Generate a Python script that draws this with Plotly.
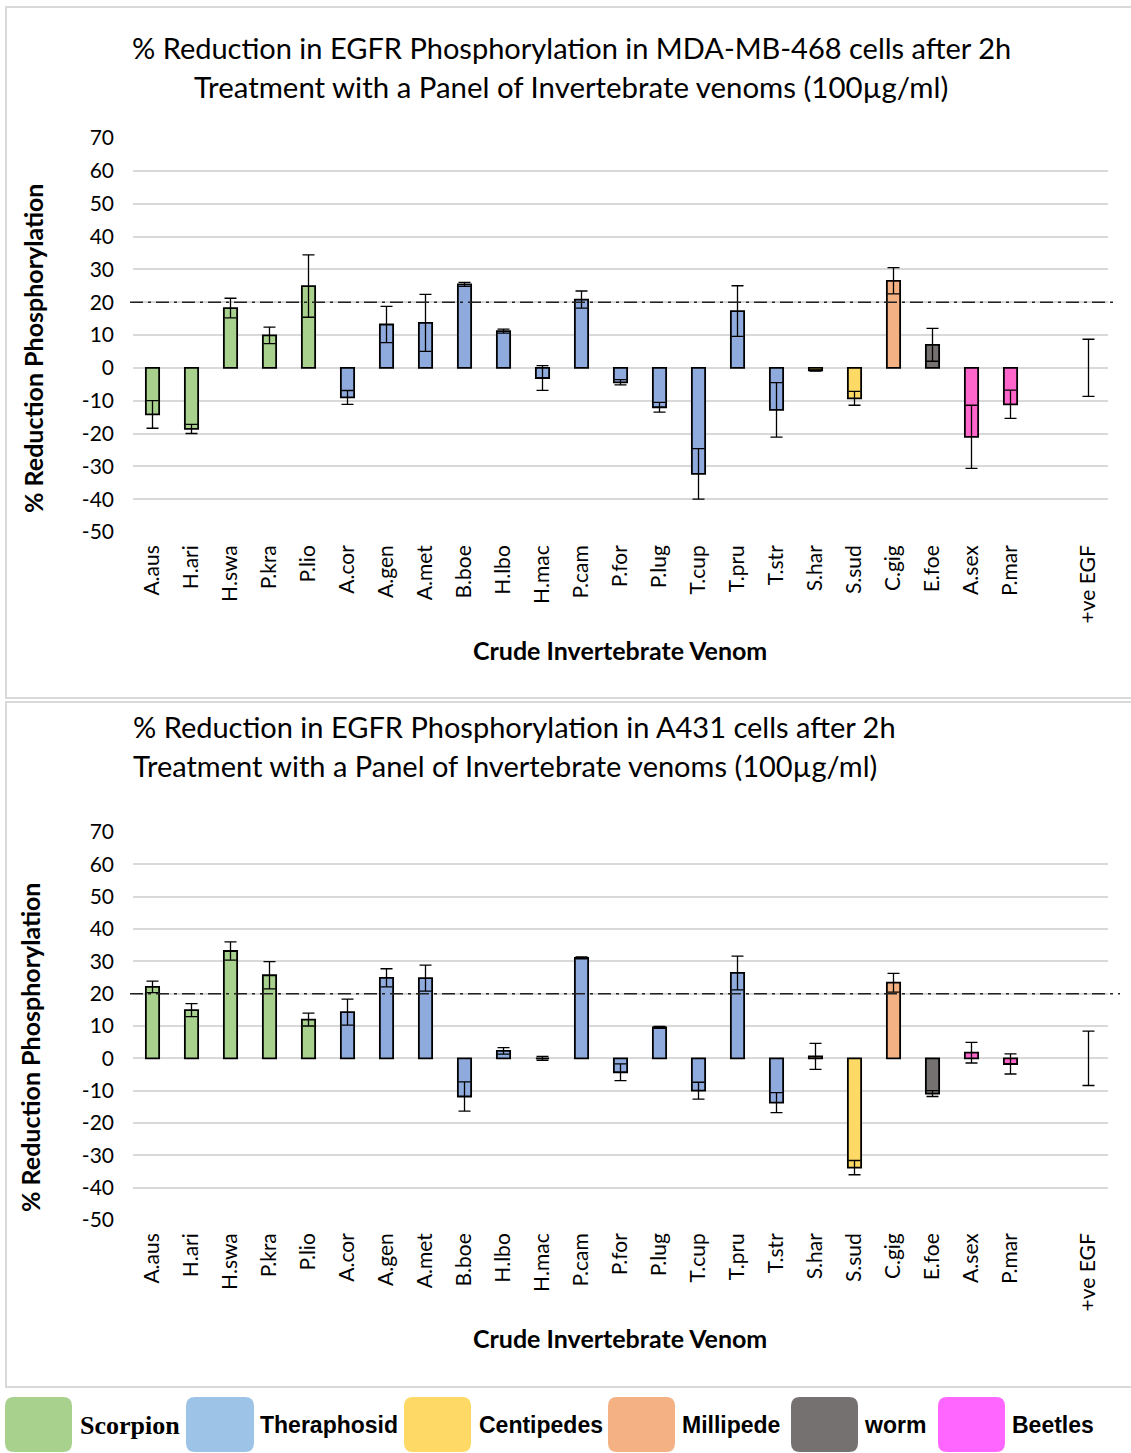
import plotly.graph_objects as go

W, H = 1131, 1453

categories = ["A.aus", "H.ari", "H.swa", "P.kra", "P.lio", "A.cor", "A.gen", "A.met",
              "B.boe", "H.lbo", "H.mac", "P.cam", "P.for", "P.lug", "T.cup", "T.pru",
              "T.str", "S.har", "S.sud", "C.gig", "E.foe", "A.sex", "P.mar", " ", "+ve EGF"]

group_of = ["Scorpion"] * 5 + ["Theraphosid"] * 12 + ["Centipedes", "Centipedes",
            "Millipede", "worm", "Beetles", "Beetles", None, None]

groups = ["Scorpion", "Theraphosid", "Centipedes", "Millipede", "worm", "Beetles"]
bar_colors = {"Scorpion": "#A9D18E", "Theraphosid": "#8FAADC", "Centipedes": "#FFD966",
              "Millipede": "#F4B183", "worm": "#767171", "Beetles": "#FF66CC"}
legend_colors = ["#A9D18E", "#9DC3E6", "#FFD966", "#F4B183", "#767171", "#FF66FF"]

# MDA-MB-468 cells
mda_values = [-14.2, -18.6, 18.2, 9.9, 24.9, -9.0, 13.2, 13.7, 25.4, 11.2, -3.1, 20.8,
              -4.4, -12.0, -32.3, 17.3, -12.8, -0.8, -9.3, 26.5, 7.0, -21.0, -11.1, None, 0]
mda_errors = [4.2, 1.4, 3.0, 2.5, 9.5, 2.1, 5.5, 8.7, 0.6, 0.6, 3.75, 2.6,
              0.8, 1.5, 7.7, 7.7, 8.3, 0.2, 2.1, 4.0, 5.0, 9.6, 4.3, None, 8.7]

# A431 cells
a431_values = [22.1, 14.9, 33.2, 25.7, 12.0, 14.3, 24.9, 24.8, -11.8, 2.3, 0.0, 31.1,
               -4.3, 9.6, -10.0, 26.4, -13.7, 0.6, -33.8, 23.4, -10.9, 1.75, -1.75, None, 0]
a431_errors = [1.8, 2.0, 2.8, 4.2, 2.0, 4.0, 2.8, 4.0, 4.5, 1.0, 0.6, 0.3,
               2.6, 0.3, 2.6, 5.2, 3.1, 4.0, 2.2, 2.9, 0.9, 3.2, 3.1, None, 8.4]

y_ticks = [70, 60, 50, 40, 30, 20, 10, 0, -10, -20, -30, -40, -50]
y_ticktext = ["70", "60", "50", "40", "30", "20", "10", "0", "-10", "-20", "-30", "-40", "-50"]

threshold = 20

titles = [
    ["% Reduction in EGFR Phosphorylation in MDA-MB-468 cells after 2h",
     "Treatment with a Panel of Invertebrate venoms (100µg/ml)"],
    ["% Reduction in EGFR Phosphorylation in A431 cells after 2h",
     "Treatment with a Panel of Invertebrate venoms (100µg/ml)"],
]
y_title = "% Reduction Phosphorylation"
x_title = "Crude Invertebrate Venom"

FONT = "Lato, 'Open Sans', sans-serif"

def px_x(p):
    return p / W

def px_y(p):
    return 1 - p / H

colors = [bar_colors[g] if g else "rgba(0,0,0,0)" for g in group_of]
line_w = [1.8 if g else 0 for g in group_of]

fig = go.Figure()
for i, (vals, errs) in enumerate([(mda_values, mda_errors), (a431_values, a431_errors)]):
    sfx = "" if i == 0 else "2"
    fig.add_trace(go.Bar(
        x=categories, y=vals,
        marker=dict(color=colors, line=dict(color="black", width=line_w)),
        error_y=dict(type="data", array=errs, visible=True, color="black",
                     thickness=1.3, width=6),
        xaxis="x" + sfx, yaxis="y" + sfx, showlegend=False, hoverinfo="x+y",
    ))

top_area = (138, 532)
bot_area = (832, 1220)
xdom = [px_x(133), px_x(1108)]

yax = dict(range=[-50, 70], tickmode="array", tickvals=y_ticks, ticktext=y_ticktext,
           showgrid=True, gridcolor="#D9D9D9", gridwidth=1.5,
           zeroline=True, zerolinecolor="#D9D9D9", zerolinewidth=1.5, showline=False,
           ticks="", ticklabelstandoff=18, tickfont=dict(family=FONT, size=21, color="black"),
           fixedrange=True, automargin=False)
xax = dict(type="category", categoryorder="array", categoryarray=categories,
           tickangle=-90, ticks="", showgrid=False, showline=False, zeroline=False,
           tickfont=dict(family=FONT, size=21, color="black"), ticklabelstandoff=8,
           fixedrange=True, automargin=False)

fig.update_layout(
    template="none",
    width=W, height=H, autosize=False, margin=dict(l=0, r=0, t=0, b=0, pad=0),
    paper_bgcolor="white", plot_bgcolor="white",
    bargap=0.66, showlegend=False,
    xaxis=dict(xax, domain=xdom, anchor="y"),
    yaxis=dict(yax, domain=[px_y(top_area[1]), px_y(top_area[0])], anchor="x"),
    xaxis2=dict(xax, domain=xdom, anchor="y2"),
    yaxis2=dict(yax, domain=[px_y(bot_area[1]), px_y(bot_area[0])], anchor="x2"),
)

shapes = []
for (t, b) in [(7, 698), (702, 1387)]:
    shapes.append(dict(type="rect", xref="paper", yref="paper", x0=px_x(6), x1=px_x(1140),
                       y0=px_y(b), y1=px_y(t), line=dict(color="#D9D9D9", width=2),
                       fillcolor="rgba(0,0,0,0)", layer="below"))
for yref, xr in [("y", (130, 1118)), ("y2", (130, 1120))]:
    shapes.append(dict(type="line", xref="paper", yref=yref, x0=px_x(xr[0]), x1=px_x(xr[1]),
                       y0=threshold, y1=threshold,
                       line=dict(color="#222222", width=1.5, dash="13px,5px,3px,5px")))

leg_sq = [(5, 72), (186, 254), (404, 471), (608, 675), (791, 858), (938, 1005)]
leg_tx = [78, 258, 477, 680, 862, 1010]
sq_top, sq_bot = 1397, 1452
r = 9
for (x0, x1), c in zip(leg_sq, legend_colors):
    X0, X1 = px_x(x0), px_x(x1)
    Y0, Y1 = px_y(sq_bot), px_y(sq_top)
    rx, ry = r / W, r / H
    path = (f"M {X0+rx},{Y0} L {X1-rx},{Y0} Q {X1},{Y0} {X1},{Y0+ry} "
            f"L {X1},{Y1-ry} Q {X1},{Y1} {X1-rx},{Y1} L {X0+rx},{Y1} "
            f"Q {X0},{Y1} {X0},{Y1-ry} L {X0},{Y0+ry} Q {X0},{Y0} {X0+rx},{Y0} Z")
    shapes.append(dict(type="path", xref="paper", yref="paper", path=path,
                       fillcolor=c, line=dict(width=0)))

annotations = []
for txt, ypx, sz in zip(titles[0], [48, 87], [29, 29.4]):
    annotations.append(dict(text=txt, xref="paper", yref="paper", x=px_x(571), y=px_y(ypx),
                            xanchor="center", yanchor="middle", showarrow=False,
                            font=dict(family=FONT, size=sz, color="black")))
for txt, ypx in zip(titles[1], [726, 765]):
    annotations.append(dict(text=txt, xref="paper", yref="paper", x=px_x(131), y=px_y(ypx),
                            xanchor="left", yanchor="middle", showarrow=False,
                            font=dict(family=FONT, size=29, color="black")))
for xc, yc in [(33, 349), (30, 1048)]:
    annotations.append(dict(text="<b>" + y_title + "</b>", xref="paper", yref="paper",
                            x=px_x(xc), y=px_y(yc), textangle=-90, showarrow=False,
                            xanchor="center", yanchor="middle",
                            font=dict(family=FONT, size=25, color="black")))
for yc in [650, 1338]:
    annotations.append(dict(text="<b>" + x_title + "</b>", xref="paper", yref="paper",
                            x=px_x(620), y=px_y(yc), showarrow=False,
                            xanchor="center", yanchor="middle",
                            font=dict(family=FONT, size=25, color="black")))
for g, xt in zip(groups, leg_tx):
    if g == "Scorpion":
        fam, sz = "'Liberation Serif', serif", 26
    else:
        fam, sz = "'Liberation Sans Narrow', 'Arial Narrow', 'Liberation Sans', sans-serif", 23
    annotations.append(dict(text="<b>" + g + "</b>", xref="paper", yref="paper",
                            x=px_x(xt), y=px_y(1425), xanchor="left", yanchor="middle",
                            showarrow=False, font=dict(family=fam, size=sz, color="black")))

fig.update_layout(shapes=shapes, annotations=annotations)
fig.write_html("out.html")
